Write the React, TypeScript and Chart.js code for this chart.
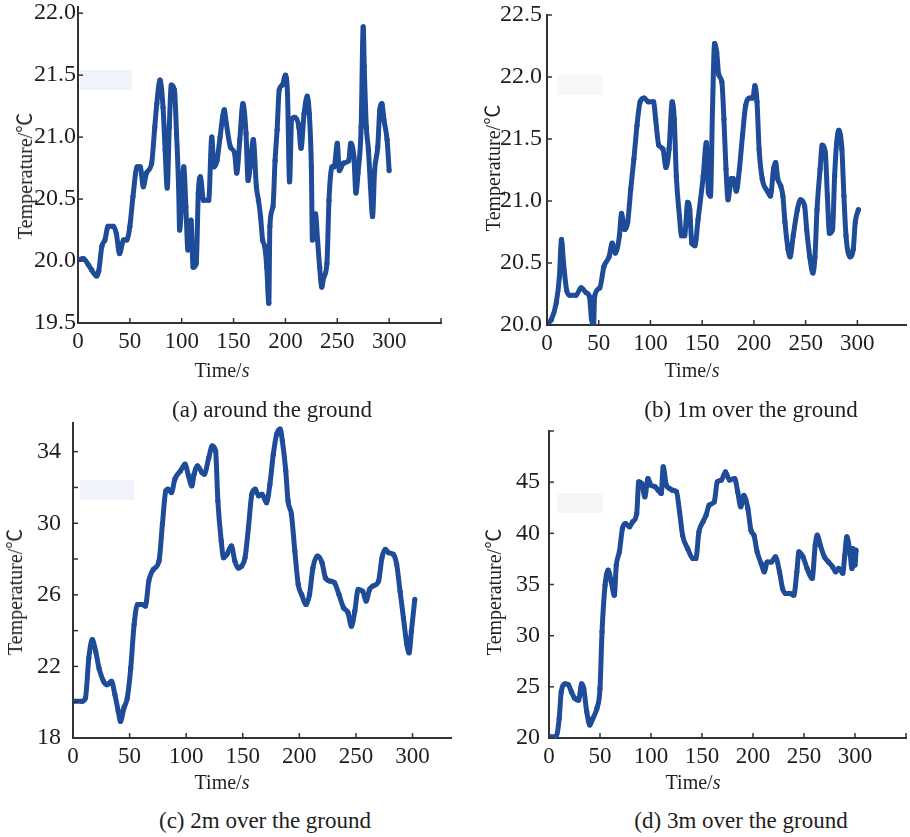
import React, { useEffect, useRef } from "react";
import { Chart, registerables } from "chart.js";
Chart.register(...registerables);

// ---------- DATA ----------
// (a) around the ground
const aTime = [0,5,10,13,18,20,23,26,29,34,37,40,44,47,50,53,57,60,63,66,71,74,76,79,82,84,86,88,90,93,95,97,98,102,104,106,109,111,114,116,118,121,126,129,131,134,137,141,143,147,151,153,156,159,162,164,166,169,172,174,176,178,180,182,184,185,188,190,192,194,197,200,202,204,206,209,213,215,218,221,223,225,226,229,231,233,235,237,240,242,245,247,250,252,256,261,263,266,268,270,273,275,276,278,280,282,284,286,289,291,293,295,298,300];
const aTemp = [20.01,20.02,19.97,19.93,19.88,19.92,20.12,20.17,20.28,20.28,20.22,20.06,20.17,20.17,20.28,20.52,20.76,20.76,20.6,20.71,20.79,21.08,21.27,21.46,21.24,20.9,20.59,21.08,21.42,21.38,21.03,20.6,20.25,20.76,20.44,20.09,20.33,19.95,19.98,20.55,20.68,20.49,20.49,21.0,20.76,20.81,21.0,21.22,21.11,20.92,20.87,20.71,20.98,21.27,21.03,20.65,20.76,20.98,20.6,20.49,20.36,20.17,20.12,19.95,19.66,20.28,20.44,20.81,21.06,21.38,21.42,21.5,21.35,20.64,21.14,21.16,21.08,20.91,21.19,21.33,21.19,20.76,20.17,20.38,20.17,19.95,19.79,19.87,19.98,20.49,20.76,20.76,20.95,20.73,20.79,20.81,20.95,20.84,20.55,20.71,21.08,21.89,21.57,21.08,20.9,20.6,20.36,20.73,20.92,21.22,21.27,21.14,20.98,20.73];
const aXTicks = [0,50,100,150,200,250,300,350];
const aXLabels = [0,50,100,150,200,250,300];
const aYTicks = [19.5,20.0,20.5,21.0,21.5,22.0];
const aYLabels = [19.5,20.0,20.5,21.0,21.5,22.0];

// (b) 1m over the ground
const bTime = [0,4,9,12,14,16,19,22,28,33,38,41,43,45,46,51,55,60,63,66,70,72,75,78,81,84,87,90,94,98,103,105,108,112,115,118,121,123,125,128,130,133,136,138,140,143,146,151,154,156,158,160,162,164,166,169,171,173,175,178,180,183,186,189,192,196,199,201,203,205,208,213,216,219,221,223,226,228,230,233,235,238,242,245,249,251,254,257,259,261,264,266,269,271,273,276,278,280,282,285,287,289,293,296,298,301];
const bTemp = [20.01,20.04,20.18,20.39,20.69,20.5,20.28,20.24,20.24,20.3,20.26,20.23,20.05,20.0,20.23,20.3,20.47,20.55,20.66,20.58,20.72,20.9,20.77,20.83,21.1,21.34,21.61,21.8,21.83,21.8,21.8,21.66,21.45,21.42,21.27,21.42,21.8,21.66,21.2,20.88,20.72,20.72,20.99,20.93,20.66,20.64,20.85,21.2,21.47,21.07,21.04,21.75,22.27,22.2,22.02,21.96,21.66,21.26,21.01,21.18,21.18,21.08,21.26,21.53,21.77,21.83,21.83,21.93,21.8,21.42,21.18,21.08,21.04,21.26,21.31,21.18,21.12,21.04,20.83,20.61,20.55,20.72,20.93,21.01,20.96,20.77,20.55,20.42,20.55,20.93,21.26,21.45,21.39,21.04,20.74,20.77,21.2,21.47,21.57,21.42,21.04,20.72,20.55,20.61,20.83,20.93];
const bXTicks = [0,50,100,150,200,250,300];
const bXLabels = [0,50,100,150,200,250,300];
const bYTicks = [20.0,20.5,21.0,21.5,22.0,22.5];
const bYLabels = [20.0,20.5,21.0,21.5,22.0,22.5];

// (c) 2m over the ground
const cTime = [0,8,11,14,17,20,23,27,30,34,37,40,42,45,48,51,54,57,61,64,67,71,76,79,82,84,87,90,95,99,102,105,107,110,114,116,120,123,126,128,131,133,136,140,143,146,149,152,155,158,161,164,167,171,174,177,180,183,185,188,190,193,196,199,202,206,209,212,216,220,223,227,231,235,239,243,246,249,252,256,259,262,265,270,273,276,279,283,286,289,292,295,297,299,302];
const cTemp = [20.05,20.05,20.24,22.48,23.5,22.85,21.9,21.17,20.98,21.17,20.43,19.5,18.93,19.68,20.24,21.9,24.34,25.46,25.46,25.37,26.77,27.42,27.89,29.94,31.8,31.9,31.71,32.46,32.93,33.3,32.65,32.09,32.74,33.2,32.83,32.74,33.67,34.32,34.04,31.25,29.0,28.07,28.26,28.73,27.89,27.5,27.6,28.07,29.75,31.62,31.9,31.53,31.62,31.15,32.18,33.86,34.98,35.26,34.6,32.93,31.25,30.5,28.45,26.58,26.02,25.46,26.02,27.51,28.17,27.8,26.96,26.77,26.68,26.02,25.28,25.0,24.25,25.09,26.3,26.2,25.65,26.3,26.49,26.77,28.07,28.54,28.35,28.26,27.7,26.2,24.7,23.22,22.76,23.97,25.74];
const cXTicks = [0,50,100,150,200,250,300];
const cXLabels = [0,50,100,150,200,250,300];
const cYTicks = [18,20,22,24,26,28,30,32,34];
const cYLabels = [18,22,26,30,34];

// (d) 3m over the ground
const dTime = [0,7,10,12,16,19,22,25,29,32,34,37,40,43,47,50,52,55,58,61,64,66,69,72,75,79,82,86,88,91,94,97,100,104,107,110,112,115,118,121,125,128,131,136,141,144,147,151,154,157,162,165,169,173,177,182,185,188,191,195,198,201,204,208,211,214,218,222,226,229,232,236,240,243,245,249,253,258,261,263,266,270,274,278,281,284,288,290,292,295,297,298,300,301];
const dTemp = [20.13,20.13,21.9,24.5,25.3,25.2,24.5,23.9,23.7,25.3,24.85,22.57,21.27,21.92,22.9,24.85,30.38,34.94,36.4,35.27,33.96,36.9,38.2,40.48,40.96,40.64,41.13,41.94,45.03,44.87,43.57,45.36,44.7,44.55,44.22,43.9,46.5,44.7,44.4,44.22,44.06,42.1,39.8,38.5,37.55,37.55,40.15,41.13,41.78,42.75,43.08,45.03,45.2,46.0,45.2,45.36,44.06,42.6,43.7,42.4,40.3,39.8,38.2,37.06,36.24,37.2,37.2,37.7,36.24,34.6,34.13,34.13,33.96,36.24,38.2,37.7,36.57,35.6,38.85,39.82,38.85,37.7,37.2,36.73,36.24,36.57,36.1,37.87,39.66,38.2,36.57,38.5,36.9,38.35];
const dXTicks = [0,50,100,150,200,250,300,350];
const dXLabels = [0,50,100,150,200,250,300];
const dYTicks = [20,25,30,35,40,45,50];
const dYLabels = [20,25,30,35,40,45];

// ---------- STYLE ----------
const LINE_COLOR = "rgb(31,76,152)";
const TEXT_COLOR = "#1e1e1e";
const FONT = "'Liberation Serif', 'Times New Roman', serif";

const innerTicks = {
  id: "innerTicks",
  afterDraw(chart: any) {
    const { ctx, chartArea } = chart;
    const xs = chart.scales.x;
    const ys = chart.scales.y;
    ctx.save();
    ctx.strokeStyle = "#333";
    ctx.lineWidth = 1.5;
    xs.ticks.forEach((t: any) => {
      const p = xs.getPixelForValue(t.value);
      ctx.beginPath();
      ctx.moveTo(p, chartArea.bottom);
      ctx.lineTo(p, chartArea.bottom - 5);
      ctx.stroke();
    });
    ys.ticks.forEach((t: any) => {
      const p = ys.getPixelForValue(t.value);
      ctx.beginPath();
      ctx.moveTo(chartArea.left, p);
      ctx.lineTo(chartArea.left + 5, p);
      ctx.stroke();
    });
    ctx.restore();
  },
};

type PanelProps = {
  left: number; top: number; width: number; height: number;
  padTop: number; padRight: number; yWidth: number; xHeight: number;
  xMax: number; yMin: number; yMax: number;
  xTicks: number[]; xLabels: number[]; yTicks: number[]; yLabels: number[];
  yDecimals: number; yPad: number;
  time: number[]; temp: number[];
};

function Panel(p: PanelProps) {
  const ref = useRef<HTMLCanvasElement | null>(null);
  useEffect(() => {
    if (!ref.current) return;
    const chart = new Chart(ref.current, {
      type: "line",
      data: {
        datasets: [
          {
            data: p.time.map((t, i) => ({ x: t, y: p.temp[i] })),
            borderColor: LINE_COLOR,
            backgroundColor: LINE_COLOR,
            borderWidth: 5,
            pointRadius: 2.6,
            pointBorderWidth: 0,
            pointBackgroundColor: LINE_COLOR,
            cubicInterpolationMode: "monotone",
            tension: 0.3,
          },
        ],
      },
      options: {
        responsive: false,
        animation: false,
        events: [],
        layout: { padding: { top: p.padTop, right: p.padRight, left: 0, bottom: 0 } },
        plugins: { legend: { display: false }, tooltip: { enabled: false }, title: { display: false } },
        scales: {
          x: {
            type: "linear",
            min: 0,
            max: p.xMax,
            grid: { display: false, drawTicks: false },
            border: { display: true, color: "#333", width: 2 },
            afterBuildTicks: (s: any) => { s.ticks = p.xTicks.map((v) => ({ value: v })); },
            afterFit: (s: any) => { s.height = p.xHeight; s.paddingLeft = 0; s.paddingRight = 0; },
            ticks: {
              padding: 5,
              maxRotation: 0,
              autoSkip: false,
              color: TEXT_COLOR,
              font: { family: FONT, size: 23 },
              callback: (v: any) => (p.xLabels.includes(Number(v)) ? String(v) : ""),
            },
          },
          y: {
            type: "linear",
            min: p.yMin,
            max: p.yMax,
            grid: { display: false, drawTicks: false },
            border: { display: true, color: "#333", width: 2 },
            afterBuildTicks: (s: any) => { s.ticks = p.yTicks.map((v) => ({ value: v })); },
            afterFit: (s: any) => { s.width = p.yWidth; s.paddingTop = 0; s.paddingBottom = 0; },
            ticks: {
              padding: p.yPad,
              autoSkip: false,
              color: TEXT_COLOR,
              font: { family: FONT, size: 24 },
              callback: (v: any) => {
                const n = Number(v);
                return p.yLabels.some((l) => Math.abs(l - n) < 1e-9) ? n.toFixed(p.yDecimals) : "";
              },
            },
          },
        },
      },
      plugins: [innerTicks],
    });
    return () => chart.destroy();
  }, []);
  return (
    <canvas
      ref={ref}
      width={p.width}
      height={p.height}
      style={{ position: "absolute", left: p.left, top: p.top, width: p.width, height: p.height }}
    />
  );
}

function Text(props: { x: number; y: number; size: number; rotate?: boolean; children: React.ReactNode }) {
  return (
    <div
      style={{
        position: "absolute",
        left: props.x,
        top: props.y,
        transform: `translate(-50%, -50%)${props.rotate ? " rotate(-90deg)" : ""}`,
        fontFamily: "'Liberation Serif', 'Noto Sans CJK SC', serif",
        fontSize: props.size,
        lineHeight: 1,
        whiteSpace: "nowrap",
        color: TEXT_COLOR,
      }}
    >
      {props.children}
    </div>
  );
}

function Artifact(props: { x: number; y: number; w: number; h: number; c: string }) {
  return <div style={{ position: "absolute", left: props.x, top: props.y, width: props.w, height: props.h, background: props.c }} />;
}

export default function App() {
  return (
    <div style={{ position: "absolute", left: 0, top: 0, width: 910, height: 837, background: "#fff", overflow: "hidden" }}>
      <Artifact x={80} y={70} w={52} h={20} c="#f0f3f9" />
      <Artifact x={557} y={75} w={46} h={20} c="#f7f8fa" />
      <Artifact x={80} y={480} w={54} h={20} c="#f0f3f9" />
      <Artifact x={557} y={493} w={46} h={20} c="#f5f6f8" />

      <Panel left={0} top={0} width={455} height={370} padTop={7} padRight={14} yWidth={78} xHeight={47}
        xMax={350} yMin={19.5} yMax={22.05} xTicks={aXTicks} xLabels={aXLabels} yTicks={aYTicks} yLabels={aYLabels}
        yDecimals={1} yPad={2} time={aTime} temp={aTemp} />
      <Panel left={455} top={0} width={455} height={370} padTop={15} padRight={0} yWidth={92} xHeight={45}
        xMax={347} yMin={20} yMax={22.5} xTicks={bXTicks} xLabels={bXLabels} yTicks={bYTicks} yLabels={bYLabels}
        yDecimals={1} yPad={5} time={bTime} temp={bTemp} />
      <Panel left={0} top={415} width={455} height={370} padTop={8} padRight={3} yWidth={73} xHeight={47}
        xMax={334} yMin={18} yMax={35.6} xTicks={cXTicks} xLabels={cXLabels} yTicks={cYTicks} yLabels={cYLabels}
        yDecimals={0} yPad={12} time={cTime} temp={cTemp} />
      <Panel left={455} top={415} width={455} height={370} padTop={16} padRight={3} yWidth={94} xHeight={47}
        xMax={350} yMin={20} yMax={50} xTicks={dXTicks} xLabels={dXLabels} yTicks={dYTicks} yLabels={dYLabels}
        yDecimals={0} yPad={9} time={dTime} temp={dTemp} />

      <Text x={24.5} y={176} size={20} rotate>Temperature/℃</Text>
      <Text x={492.5} y={168} size={20} rotate>Temperature/℃</Text>
      <Text x={15} y={592} size={20} rotate>Temperature/℃</Text>
      <Text x={494} y={592} size={20} rotate>Temperature/℃</Text>

      <Text x={222} y={370} size={20}>Time/<i>s</i></Text>
      <Text x={692} y={370} size={20}>Time/<i>s</i></Text>
      <Text x={222} y={782} size={20}>Time/<i>s</i></Text>
      <Text x={693} y={782} size={20}>Time/<i>s</i></Text>

      <Text x={272} y={409} size={23}>(a) around the ground</Text>
      <Text x={751} y={409} size={23}>(b) 1m over the ground</Text>
      <Text x={265} y={820} size={23}>(c) 2m over the ground</Text>
      <Text x={741} y={820} size={23}>(d) 3m over the ground</Text>
    </div>
  );
}
